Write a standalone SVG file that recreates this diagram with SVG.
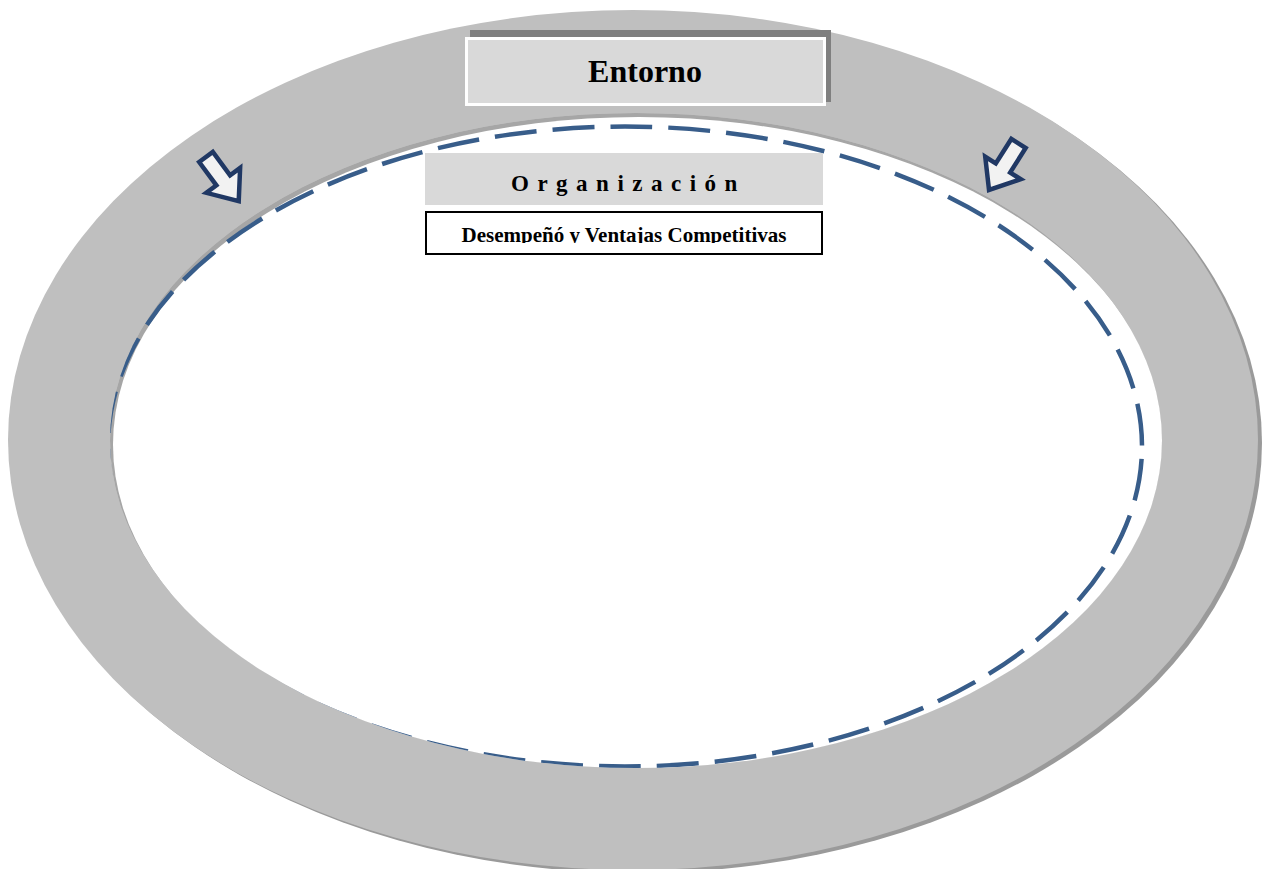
<svg xmlns="http://www.w3.org/2000/svg" width="1265" height="869" viewBox="0 0 1265 869">
  <style>
    .ring { fill: #bfbfbf; }
    .ringShadow { fill: #9a9a9a; }
    .arrow { fill: #f2f2f2; stroke: #203864; stroke-width: 4.5; stroke-linejoin: miter; }
    .serifB { font-family: "Liberation Serif", "Times New Roman", serif; font-weight: bold; fill: #000; }
  </style>
  <defs>
    <clipPath id="holeClip">
      <ellipse cx="636" cy="440.5" rx="526" ry="327.5"/>
    </clipPath>
    <clipPath id="descClip">
      <rect x="426" y="212" width="396" height="31"/>
    </clipPath>
    <path id="arrowShape" d="M -8.5,0 L 8.5,0 L 8.5,29 L 21,29 L 0,55 L -21,29 L -8.5,29 Z"/>
  </defs>
  <rect width="1265" height="869" fill="#ffffff"/>

  <g id="entorno-ring">
    <ellipse class="ringShadow" cx="637" cy="443" rx="625" ry="430"/>
    <ellipse class="ring" cx="633" cy="440" rx="625" ry="430"/>
    <g clip-path="url(#holeClip)">
      <ellipse cx="636" cy="440.5" rx="526" ry="327.5" fill="#a6a6a6"/>
      <ellipse cx="639" cy="444.5" rx="526" ry="327.5" fill="#ffffff"/>
    </g>
  </g>

  <g id="organizacion-boundary" clip-path="url(#holeClip)">
    <ellipse cx="625" cy="446.5" rx="517" ry="320" fill="none" stroke="#385d8a" stroke-width="4.5" stroke-dasharray="42 16" stroke-dashoffset="45.5"/>
  </g>

  <g id="connectors">
    <use href="#arrowShape" class="arrow" transform="translate(206,157) rotate(-36.5)"/>
    <use href="#arrowShape" class="arrow" transform="translate(1018.5,143.5) rotate(32.4)"/>
  </g>

  <g id="node-entorno">
    <rect x="470" y="30" width="361" height="72" fill="#7f7f7f"/>
    <rect x="466.5" y="38.5" width="358" height="66" fill="#d9d9d9" stroke="#ffffff" stroke-width="3"/>
    <text class="serifB" x="645" y="82" font-size="32" text-anchor="middle">Entorno</text>
  </g>

  <g id="node-organizacion">
    <rect x="425" y="153" width="398" height="52" fill="#d9d9d9"/>
    <text class="serifB" x="511" y="191" font-size="23" letter-spacing="8.5">Organización</text>
  </g>

  <g id="node-desempeno">
    <rect x="426" y="212" width="396" height="42" fill="#ffffff" stroke="#000000" stroke-width="2"/>
    <text class="serifB" x="624" y="242" font-size="21" text-anchor="middle" clip-path="url(#descClip)">Desempeñó y Ventajas Competitivas</text>
  </g>
</svg>
